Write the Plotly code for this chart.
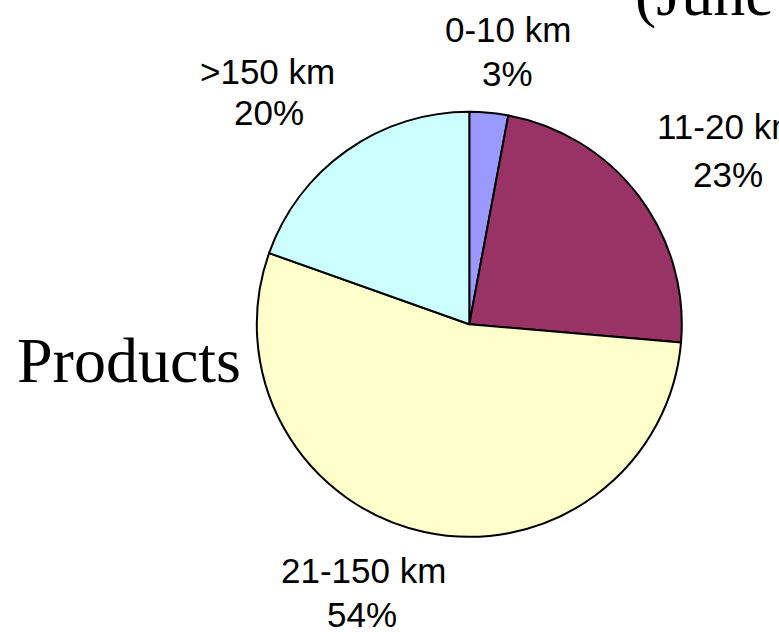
import plotly.graph_objects as go

# Data
categories = ["0-10 km", "11-20 km", "21-150 km", ">150 km"]
values = [2.94, 23.42, 54.08, 19.56]
colors = ["#9999FF", "#993366", "#FFFFCC", "#CCFFFF"]

W, H = 779, 632

def px_x(p):
    return p / W

def px_y(p):
    return 1 - p / H

total = sum(values)
pct_labels = [f"{round(v / total * 100):d}%" for v in values]

# Pie centre (469.3, 324.3) px, radius 212.5 px
cx, cy, r = 469.3, 324.3, 212.5

fig = go.Figure(
    go.Pie(
        labels=categories,
        values=values,
        sort=False,
        direction="clockwise",
        rotation=0,
        marker=dict(colors=colors, line=dict(color="#000000", width=2)),
        textinfo="none",
        hoverinfo="label+percent",
        showlegend=False,
        domain=dict(x=[px_x(cx - r), px_x(cx + r)], y=[px_y(cy + r), px_y(cy - r)]),
    )
)

# label positions (pixel centres) for name line and percent line
label_pos = [
    ((508, 29), (507, 74)),
    ((728, 127), (728, 174)),
    ((363, 570), (362, 614)),
    ((267.5, 71), (269, 112)),
]

lab_font = dict(family="Liberation Sans, Arial, sans-serif", size=35, color="#000000")
annotations = []
for name, pct, ((nx, ny), (qx, qy)) in zip(categories, pct_labels, label_pos):
    annotations.append(dict(text=name, x=px_x(nx), y=px_y(ny), xref="paper", yref="paper",
                            xanchor="center", yanchor="middle", showarrow=False, font=lab_font))
    annotations.append(dict(text=pct, x=px_x(qx), y=px_y(qy), xref="paper", yref="paper",
                            xanchor="center", yanchor="middle", showarrow=False, font=lab_font))

serif = dict(family="Liberation Serif, Times New Roman, serif", size=64, color="#000000")
annotations.append(dict(text="Products", x=px_x(15), y=px_y(360), xref="paper", yref="paper",
                        xanchor="left", yanchor="middle", showarrow=False, font=serif))
annotations.append(dict(text="(June", x=px_x(633), y=px_y(-6.6), xref="paper", yref="paper",
                        xanchor="left", yanchor="middle", showarrow=False, font=serif))

fig.update_layout(
    width=W,
    height=H,
    margin=dict(l=0, r=0, t=0, b=0),
    paper_bgcolor="#FFFFFF",
    plot_bgcolor="#FFFFFF",
    annotations=annotations,
)

fig.write_html(
    "out.html",
    config={"displayModeBar": False},
    post_script="document.body.style.margin='0px';document.body.style.overflow='hidden';",
)
